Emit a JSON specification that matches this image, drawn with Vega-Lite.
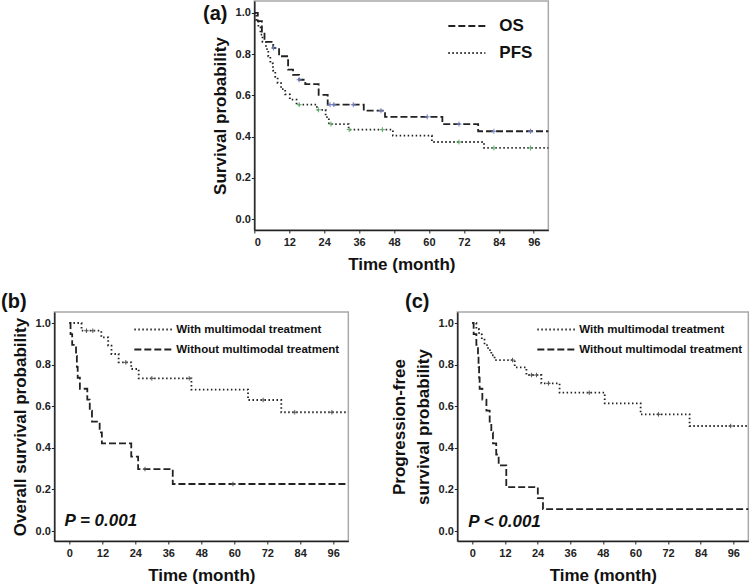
{
  "$schema": "https://vega.github.io/schema/vega-lite/v6.json",
  "autosize": {"type": "pad"},
  "padding": {"left": 0, "top": 0, "right": 2, "bottom": 0},
  "background": "white",
  "config": {
    "font": "Liberation Sans",
    "view": {"stroke": "#a8a8a8", "strokeWidth": 1.5},
    "axis": {
      "grid": false,
      "domainColor": "#222222",
      "domainWidth": 1.5,
      "tickColor": "#222222",
      "tickSize": 3,
      "tickWidth": 1,
      "labelFont": "Liberation Sans",
      "labelFontWeight": "bold",
      "labelFontSize": 11,
      "labelColor": "#222222",
      "labelOverlap": false,
      "titleFont": "Liberation Sans",
      "titleFontSize": 17,
      "titleFontWeight": "bold",
      "titleColor": "#111111"
    },
    "axisX": {"titlePadding": 9, "labelPadding": 3, "labelOverlap": false},
    "axisY": {"titlePadding": 6, "labelPadding": 1},
    "legend": {
      "title": null,
      "padding": 0,
      "labelFont": "Liberation Sans",
      "labelFontWeight": "bold",
      "labelColor": "#111111",
      "labelLimit": 400,
      "symbolType": "stroke",
      "symbolStrokeColor": "#222222",
      "symbolStrokeWidth": 1.8,
      "rowPadding": 0
    },
    "title": {"fontSize": 20, "fontWeight": "bold", "anchor": "start", "frame": "bounds", "color": "#111111"}
  },
  "datasets": {
    "a": [
      {"curve": "OS", "time": 0, "surv": 1.0},
      {"curve": "OS", "time": 1.2, "surv": 0.96},
      {"curve": "OS", "time": 2.6, "surv": 0.91},
      {"curve": "OS", "time": 3.5, "surv": 0.86},
      {"curve": "OS", "time": 6.5, "surv": 0.83},
      {"curve": "OS", "time": 8.5, "surv": 0.79},
      {"curve": "OS", "time": 11.6, "surv": 0.725},
      {"curve": "OS", "time": 13.3, "surv": 0.70},
      {"curve": "OS", "time": 15.4, "surv": 0.676},
      {"curve": "OS", "time": 17.5, "surv": 0.655},
      {"curve": "OS", "time": 22.1, "surv": 0.603},
      {"curve": "OS", "time": 25.2, "surv": 0.555},
      {"curve": "OS", "time": 37.6, "surv": 0.526},
      {"curve": "OS", "time": 44.9, "surv": 0.496},
      {"curve": "OS", "time": 64.6, "surv": 0.461},
      {"curve": "OS", "time": 76.9, "surv": 0.426},
      {"curve": "OS", "time": 101, "surv": 0.426},
      {"curve": "PFS", "time": 0, "surv": 1.0},
      {"curve": "PFS", "time": 0.7, "surv": 0.965},
      {"curve": "PFS", "time": 1.4, "surv": 0.93},
      {"curve": "PFS", "time": 2.1, "surv": 0.895},
      {"curve": "PFS", "time": 2.8, "surv": 0.86},
      {"curve": "PFS", "time": 4.0, "surv": 0.825},
      {"curve": "PFS", "time": 4.8, "surv": 0.79},
      {"curve": "PFS", "time": 5.5, "surv": 0.755},
      {"curve": "PFS", "time": 6.4, "surv": 0.72},
      {"curve": "PFS", "time": 7.2, "surv": 0.69},
      {"curve": "PFS", "time": 8.0, "surv": 0.66},
      {"curve": "PFS", "time": 9.2, "surv": 0.63},
      {"curve": "PFS", "time": 10.6, "surv": 0.605},
      {"curve": "PFS", "time": 12.2, "surv": 0.58},
      {"curve": "PFS", "time": 14.5, "surv": 0.555},
      {"curve": "PFS", "time": 21.5, "surv": 0.53},
      {"curve": "PFS", "time": 24.5, "surv": 0.495},
      {"curve": "PFS", "time": 25.6, "surv": 0.461},
      {"curve": "PFS", "time": 32.4, "surv": 0.434},
      {"curve": "PFS", "time": 47.6, "surv": 0.405},
      {"curve": "PFS", "time": 61.0, "surv": 0.374},
      {"curve": "PFS", "time": 78.9, "surv": 0.345},
      {"curve": "PFS", "time": 101, "surv": 0.345}
    ],
    "a_cens": [
      {"curve": "OS", "time": 6.6, "surv": 0.83},
      {"curve": "OS", "time": 15.4, "surv": 0.676},
      {"curve": "OS", "time": 26.0, "surv": 0.555},
      {"curve": "OS", "time": 27.3, "surv": 0.555},
      {"curve": "OS", "time": 34.0, "surv": 0.555},
      {"curve": "OS", "time": 43.5, "surv": 0.526},
      {"curve": "OS", "time": 59.4, "surv": 0.496},
      {"curve": "OS", "time": 70.3, "surv": 0.461},
      {"curve": "OS", "time": 82.3, "surv": 0.426},
      {"curve": "OS", "time": 94.9, "surv": 0.426},
      {"curve": "PFS", "time": 15.4, "surv": 0.555},
      {"curve": "PFS", "time": 22.0, "surv": 0.53},
      {"curve": "PFS", "time": 26.3, "surv": 0.461},
      {"curve": "PFS", "time": 32.6, "surv": 0.434},
      {"curve": "PFS", "time": 44.0, "surv": 0.434},
      {"curve": "PFS", "time": 70.3, "surv": 0.374},
      {"curve": "PFS", "time": 82.3, "surv": 0.345},
      {"curve": "PFS", "time": 94.9, "surv": 0.345}
    ],
    "b": [
      {"curve": "With multimodal treatment", "time": 0, "surv": 1.0},
      {"curve": "With multimodal treatment", "time": 4.4, "surv": 0.963},
      {"curve": "With multimodal treatment", "time": 11.6, "surv": 0.931},
      {"curve": "With multimodal treatment", "time": 14.1, "surv": 0.891},
      {"curve": "With multimodal treatment", "time": 15.3, "surv": 0.851},
      {"curve": "With multimodal treatment", "time": 17.9, "surv": 0.811},
      {"curve": "With multimodal treatment", "time": 22.5, "surv": 0.779},
      {"curve": "With multimodal treatment", "time": 25.2, "surv": 0.734},
      {"curve": "With multimodal treatment", "time": 44.4, "surv": 0.68},
      {"curve": "With multimodal treatment", "time": 65.0, "surv": 0.63},
      {"curve": "With multimodal treatment", "time": 77.1, "surv": 0.571},
      {"curve": "With multimodal treatment", "time": 101.5, "surv": 0.571},
      {"curve": "Without multimodal treatment", "time": 0, "surv": 1.0},
      {"curve": "Without multimodal treatment", "time": 0.4, "surv": 0.947},
      {"curve": "Without multimodal treatment", "time": 1.0, "surv": 0.895},
      {"curve": "Without multimodal treatment", "time": 2.4, "surv": 0.842},
      {"curve": "Without multimodal treatment", "time": 2.7, "surv": 0.789},
      {"curve": "Without multimodal treatment", "time": 3.0, "surv": 0.737},
      {"curve": "Without multimodal treatment", "time": 3.8, "surv": 0.684},
      {"curve": "Without multimodal treatment", "time": 6.5, "surv": 0.632},
      {"curve": "Without multimodal treatment", "time": 7.4, "surv": 0.579},
      {"curve": "Without multimodal treatment", "time": 8.2, "surv": 0.526},
      {"curve": "Without multimodal treatment", "time": 11.0, "surv": 0.474},
      {"curve": "Without multimodal treatment", "time": 11.8, "surv": 0.421},
      {"curve": "Without multimodal treatment", "time": 22.5, "surv": 0.358},
      {"curve": "Without multimodal treatment", "time": 25.0, "surv": 0.298},
      {"curve": "Without multimodal treatment", "time": 37.6, "surv": 0.226},
      {"curve": "Without multimodal treatment", "time": 101.5, "surv": 0.226}
    ],
    "b_cens": [
      {"curve": "With multimodal treatment", "time": 6.2, "surv": 0.963},
      {"curve": "With multimodal treatment", "time": 8.5, "surv": 0.963},
      {"curve": "With multimodal treatment", "time": 20.5, "surv": 0.811},
      {"curve": "With multimodal treatment", "time": 30.0, "surv": 0.734},
      {"curve": "With multimodal treatment", "time": 43.6, "surv": 0.734},
      {"curve": "With multimodal treatment", "time": 70.5, "surv": 0.63},
      {"curve": "With multimodal treatment", "time": 82.0, "surv": 0.571},
      {"curve": "With multimodal treatment", "time": 95.5, "surv": 0.571},
      {"curve": "Without multimodal treatment", "time": 27.5, "surv": 0.298},
      {"curve": "Without multimodal treatment", "time": 59.5, "surv": 0.226}
    ],
    "c": [
      {"curve": "With multimodal treatment", "time": 0, "surv": 1.0},
      {"curve": "With multimodal treatment", "time": 1.5, "surv": 0.97},
      {"curve": "With multimodal treatment", "time": 2.5, "surv": 0.945},
      {"curve": "With multimodal treatment", "time": 3.5, "surv": 0.92},
      {"curve": "With multimodal treatment", "time": 4.5, "surv": 0.894},
      {"curve": "With multimodal treatment", "time": 5.8, "surv": 0.87},
      {"curve": "With multimodal treatment", "time": 7.0, "surv": 0.845},
      {"curve": "With multimodal treatment", "time": 8.2, "surv": 0.822},
      {"curve": "With multimodal treatment", "time": 15.6, "surv": 0.787},
      {"curve": "With multimodal treatment", "time": 19.9, "surv": 0.75},
      {"curve": "With multimodal treatment", "time": 25.4, "surv": 0.71},
      {"curve": "With multimodal treatment", "time": 32.1, "surv": 0.665},
      {"curve": "With multimodal treatment", "time": 48.7, "surv": 0.614},
      {"curve": "With multimodal treatment", "time": 61.9, "surv": 0.561},
      {"curve": "With multimodal treatment", "time": 79.9, "surv": 0.505},
      {"curve": "With multimodal treatment", "time": 101.5, "surv": 0.505},
      {"curve": "Without multimodal treatment", "time": 0, "surv": 1.0},
      {"curve": "Without multimodal treatment", "time": 0.5, "surv": 0.947},
      {"curve": "Without multimodal treatment", "time": 1.5, "surv": 0.895},
      {"curve": "Without multimodal treatment", "time": 2.1, "surv": 0.842},
      {"curve": "Without multimodal treatment", "time": 2.3, "surv": 0.789},
      {"curve": "Without multimodal treatment", "time": 2.5, "surv": 0.737},
      {"curve": "Without multimodal treatment", "time": 2.7, "surv": 0.684},
      {"curve": "Without multimodal treatment", "time": 3.7, "surv": 0.632},
      {"curve": "Without multimodal treatment", "time": 5.2, "surv": 0.579},
      {"curve": "Without multimodal treatment", "time": 6.4, "surv": 0.526},
      {"curve": "Without multimodal treatment", "time": 7.0, "surv": 0.474},
      {"curve": "Without multimodal treatment", "time": 7.6, "surv": 0.421},
      {"curve": "Without multimodal treatment", "time": 8.8, "surv": 0.368},
      {"curve": "Without multimodal treatment", "time": 9.7, "surv": 0.316},
      {"curve": "Without multimodal treatment", "time": 12.5, "surv": 0.211},
      {"curve": "Without multimodal treatment", "time": 24.1, "surv": 0.158},
      {"curve": "Without multimodal treatment", "time": 26.0, "surv": 0.105},
      {"curve": "Without multimodal treatment", "time": 101.5, "surv": 0.105}
    ],
    "c_cens": [
      {"curve": "With multimodal treatment", "time": 14.8, "surv": 0.822},
      {"curve": "With multimodal treatment", "time": 21.8, "surv": 0.75},
      {"curve": "With multimodal treatment", "time": 23.6, "surv": 0.75},
      {"curve": "With multimodal treatment", "time": 28.0, "surv": 0.71},
      {"curve": "With multimodal treatment", "time": 43.0, "surv": 0.665},
      {"curve": "With multimodal treatment", "time": 68.5, "surv": 0.561},
      {"curve": "With multimodal treatment", "time": 95.0, "surv": 0.505}
    ],
    "pb": [{"label": "P = 0.001"}],
    "pc": [{"label": "P < 0.001"}]
  },
  "spacing": 18,
  "bounds": "full",
  "center": true,
  "resolve": {"scale": {"strokeDash": "independent"}, "legend": {"strokeDash": "independent"}},
  "vconcat": [
    {
      "width": 294,
      "height": 229,
      "title": {"text": "(a)", "dx": -8, "dy": 23, "offset": 0},
      "layer": [
        {
          "data": {"name": "a"},
          "mark": {"type": "line", "interpolate": "step-after", "strokeWidth": 1.8, "color": "#222222"},
          "encoding": {
            "x": {
              "field": "time", "type": "quantitative",
              "scale": {"domain": [0, 101], "nice": false, "zero": false},
              "axis": {"values": [0, 12, 24, 36, 48, 60, 72, 84, 96], "title": "Time (month)", "labelOverlap": false}
            },
            "y": {
              "field": "surv", "type": "quantitative",
              "scale": {"domain": [-0.053, 1.058], "nice": false, "zero": false},
              "axis": {"values": [0, 0.2, 0.4, 0.6, 0.8, 1.0], "format": ".1f", "title": "Survival probability"}
            },
            "strokeDash": {
              "field": "curve", "type": "nominal",
              "scale": {"domain": ["OS", "PFS"], "range": [[7, 3], [1.5, 2.5]]},
              "legend": {"orient": "none", "legendX": 193, "legendY": 11.5, "labelFontSize": 17, "symbolSize": 1369, "clipHeight": 27, "labelOffset": 13}
            }
          }
        },
        {
          "data": {"name": "a_cens"},
          "transform": [{"filter": "datum.curve === 'OS'"}],
          "mark": {"type": "point", "shape": "M-1,0H1M0,-1V1", "size": 25, "filled": false, "strokeWidth": 1, "color": "#6f7fc4", "opacity": 1},
          "encoding": {
            "x": {"field": "time", "type": "quantitative", "axis": {"values": [0, 12, 24, 36, 48, 60, 72, 84, 96], "title": "Time (month)", "labelOverlap": false}},
            "y": {"field": "surv", "type": "quantitative", "axis": {"values": [0, 0.2, 0.4, 0.6, 0.8, 1.0], "format": ".1f", "title": "Survival probability"}}
          }
        },
        {
          "data": {"name": "a_cens"},
          "transform": [{"filter": "datum.curve === 'PFS'"}],
          "mark": {"type": "point", "shape": "M-1,0H1M0,-1V1", "size": 25, "filled": false, "strokeWidth": 1, "color": "#5fae6a", "opacity": 1},
          "encoding": {
            "x": {"field": "time", "type": "quantitative", "axis": {"values": [0, 12, 24, 36, 48, 60, 72, 84, 96], "title": "Time (month)", "labelOverlap": false}},
            "y": {"field": "surv", "type": "quantitative", "axis": {"values": [0, 0.2, 0.4, 0.6, 0.8, 1.0], "format": ".1f", "title": "Survival probability"}}
          }
        }
      ]
    },
    {
      "hconcat": [
        {
          "width": 294,
          "height": 229,
          "title": {"text": "(b)", "dx": -10, "offset": 0},
          "layer": [
            {
              "data": {"name": "b"},
              "mark": {"type": "line", "interpolate": "step-after", "strokeWidth": 1.8, "color": "#222222"},
              "encoding": {
                "x": {
                  "field": "time", "type": "quantitative",
                  "scale": {"domain": [-5.5, 101.5], "nice": false, "zero": false},
                  "axis": {"values": [0, 12, 24, 36, 48, 60, 72, 84, 96], "title": "Time (month)", "labelOverlap": false}
                },
                "y": {
                  "field": "surv", "type": "quantitative",
                  "scale": {"domain": [-0.048, 1.053], "nice": false, "zero": false},
                  "axis": {"values": [0, 0.2, 0.4, 0.6, 0.8, 1.0], "format": ".1f", "title": "Overall survival probability"}
                },
                "strokeDash": {
                  "field": "curve", "type": "nominal",
                  "scale": {"domain": ["With multimodal treatment", "Without multimodal treatment"], "range": [[1.5, 2.5], [7, 3]]},
                  "legend": {"orient": "none", "legendX": 79, "legendY": 7.5, "labelFontSize": 11.5, "symbolSize": 1521, "clipHeight": 20, "labelOffset": 2}
                }
              }
            },
            {
              "data": {"name": "b_cens"},
              "mark": {"type": "point", "shape": "M-1,0H1M0,-1V1", "size": 20, "filled": false, "strokeWidth": 1, "color": "#555555", "opacity": 1},
              "encoding": {
                "x": {"field": "time", "type": "quantitative", "axis": {"values": [0, 12, 24, 36, 48, 60, 72, 84, 96], "title": "Time (month)", "labelOverlap": false}},
                "y": {"field": "surv", "type": "quantitative", "axis": {"values": [0, 0.2, 0.4, 0.6, 0.8, 1.0], "format": ".1f", "title": "Overall survival probability"}}
              }
            },
            {
              "data": {"name": "pb"},
              "mark": {"type": "text", "align": "left", "baseline": "middle", "fontSize": 17, "fontWeight": "bold", "fontStyle": "italic", "color": "#111111"},
              "encoding": {
                "x": {"datum": -1.8, "type": "quantitative", "axis": {"values": [0, 12, 24, 36, 48, 60, 72, 84, 96], "title": "Time (month)", "labelOverlap": false}},
                "y": {"datum": 0.048, "type": "quantitative", "axis": {"values": [0, 0.2, 0.4, 0.6, 0.8, 1.0], "format": ".1f", "title": "Overall survival probability"}},
                "text": {"field": "label"}
              }
            }
          ]
        },
        {
          "width": 291,
          "height": 229,
          "title": {"text": "(c)", "dx": 15, "offset": 0},
          "layer": [
            {
              "data": {"name": "c"},
              "mark": {"type": "line", "interpolate": "step-after", "strokeWidth": 1.8, "color": "#222222"},
              "encoding": {
                "x": {
                  "field": "time", "type": "quantitative",
                  "scale": {"domain": [-5.5, 101.5], "nice": false, "zero": false},
                  "axis": {"values": [0, 12, 24, 36, 48, 60, 72, 84, 96], "title": "Time (month)", "labelOverlap": false}
                },
                "y": {
                  "field": "surv", "type": "quantitative",
                  "scale": {"domain": [-0.048, 1.053], "nice": false, "zero": false},
                  "axis": {"values": [0, 0.2, 0.4, 0.6, 0.8, 1.0], "format": ".1f", "title": ["Progression-free", "survival probability"], "titleLineHeight": 24}
                },
                "strokeDash": {
                  "field": "curve", "type": "nominal",
                  "scale": {"domain": ["With multimodal treatment", "Without multimodal treatment"], "range": [[1.5, 2.5], [7, 3]]},
                  "legend": {"orient": "none", "legendX": 79, "legendY": 7.5, "labelFontSize": 11.5, "symbolSize": 1521, "clipHeight": 20, "labelOffset": 2}
                }
              }
            },
            {
              "data": {"name": "c_cens"},
              "mark": {"type": "point", "shape": "M-1,0H1M0,-1V1", "size": 20, "filled": false, "strokeWidth": 1, "color": "#555555", "opacity": 1},
              "encoding": {
                "x": {"field": "time", "type": "quantitative", "axis": {"values": [0, 12, 24, 36, 48, 60, 72, 84, 96], "title": "Time (month)", "labelOverlap": false}},
                "y": {"field": "surv", "type": "quantitative", "axis": {"values": [0, 0.2, 0.4, 0.6, 0.8, 1.0], "format": ".1f", "title": ["Progression-free", "survival probability"], "titleLineHeight": 24}}
              }
            },
            {
              "data": {"name": "pc"},
              "mark": {"type": "text", "align": "left", "baseline": "middle", "fontSize": 17, "fontWeight": "bold", "fontStyle": "italic", "color": "#111111"},
              "encoding": {
                "x": {"datum": -1.5, "type": "quantitative", "axis": {"values": [0, 12, 24, 36, 48, 60, 72, 84, 96], "title": "Time (month)", "labelOverlap": false}},
                "y": {"datum": 0.043, "type": "quantitative", "axis": {"values": [0, 0.2, 0.4, 0.6, 0.8, 1.0], "format": ".1f", "title": ["Progression-free", "survival probability"], "titleLineHeight": 24}},
                "text": {"field": "label"}
              }
            }
          ]
        }
      ],
      "spacing": 109,
      "bounds": "flush",
      "resolve": {"scale": {"strokeDash": "independent"}, "legend": {"strokeDash": "independent"}}
    }
  ]
}
